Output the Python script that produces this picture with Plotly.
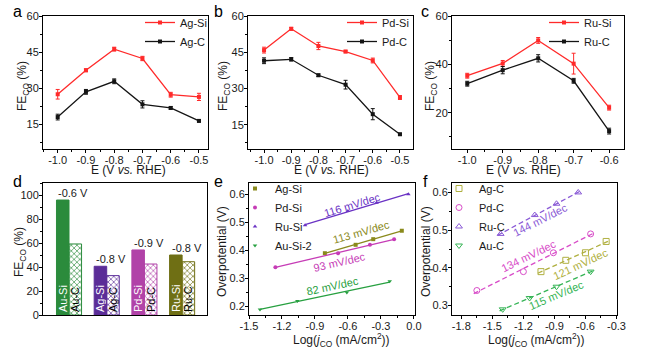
import numpy as np
import plotly.graph_objects as go

W, H = 649, 351
FONT = "Arial, Liberation Sans, sans-serif"

# ---------------- data ----------------
E6 = [-1.0, -0.9, -0.8, -0.7, -0.6, -0.5]
E5 = [-1.0, -0.9, -0.8, -0.7, -0.6]

ag_si = [27.4, 37.4, 46.2, 42.3, 27.2, 26.3]
ag_si_err = [2.0, 0.6, 0.8, 0.9, 1.0, 1.5]
ag_c = [17.9, 28.4, 32.8, 23.2, 21.7, 16.3]
ag_c_err = [1.2, 1.0, 1.0, 1.5, 0.5, 0.4]

pd_si = [45.9, 54.7, 47.6, 45.3, 41.6, 26.3]
pd_si_err = [1.2, 0.6, 1.5, 0.5, 1.0, 0.8]
pd_c = [41.5, 42.1, 35.5, 31.6, 19.4, 11.1]
pd_c_err = [1.2, 0.7, 0.5, 1.8, 2.3, 0.4]

ru_si = [35.3, 40.4, 49.9, 40.3, 22.1]
ru_si_err = [1.0, 1.2, 1.2, 4.3, 1.0]
ru_c = [32.0, 37.6, 42.5, 33.2, 12.4]
ru_c_err = [1.0, 1.5, 1.5, 1.0, 1.2]

metals = ["Au", "Ag", "Pd", "Ru"]
fe_si_best = [95.8, 40.6, 54.2, 50.0]
fe_c_best = [59.2, 32.8, 42.5, 44.4]
best_E = ["-0.6 V", "-0.8 V", "-0.9 V", "-0.8 V"]

# Tafel (e): Si-supported
tafel_si_names = ["Ag-Si", "Pd-Si", "Ru-Si", "Au-Si-2"]
tafel_si_x = [[-0.81, -0.53, -0.37, -0.11],
              [-1.26, -0.69, -0.40, -0.18],
              [-0.99, -0.60, -0.34, -0.05],
              [-1.40, -1.06, -0.61, -0.22]]
tafel_si_y = [[0.39, 0.42, 0.44, 0.47],
              [0.34, 0.39, 0.42, 0.44],
              [0.49, 0.54, 0.57, 0.60],
              [0.19, 0.22, 0.25, 0.29]]
tafel_si_slope = ["113 mV/dec", "93 mV/dec", "116 mV/dec", "82 mV/dec"]

# Tafel (f): C-supported
tafel_c_names = ["Ag-C", "Pd-C", "Ru-C", "Au-C"]
tafel_c_x = [[-1.03, -0.79, -0.60, -0.40],
             [-1.65, -1.20, -0.91, -0.55],
             [-1.42, -1.09, -0.88, -0.67],
             [-1.40, -1.14, -0.88, -0.55]]
tafel_c_y = [[0.39, 0.42, 0.44, 0.47],
             [0.34, 0.39, 0.44, 0.49],
             [0.49, 0.54, 0.57, 0.60],
             [0.29, 0.32, 0.35, 0.39]]
tafel_c_slope = ["121 mV/dec", "134 mV/dec", "144 mV/dec", "115 mV/dec"]

# tick labels
tick_E6 = [-1.0, -0.9, -0.8, -0.7, -0.6, -0.5]
tick_E5 = [-1.0, -0.9, -0.8, -0.7, -0.6]
tick_fe15 = [15, 30, 45, 60]
tick_fe20 = [20, 40, 60]
tick_bar = [0, 20, 40, 60, 80, 100]
tick_e_x = [-1.5, -1.2, -0.9, -0.6, -0.3, 0.0]
tick_f_x = [-1.8, -1.5, -1.2, -0.9, -0.6, -0.3]
tick_e_y = [0.2, 0.3, 0.4, 0.5, 0.6]
tick_f_y = [0.3, 0.4, 0.5, 0.6]

# ---------------- styles ----------------
RED, BLACK = "#ff2a2a", "#141414"
bar_colors = ["#2b8b3c", "#5b2d98", "#b142a8", "#6f6f14"]
si_colors = ["#8a8a1c", "#c63cb6", "#6a32c4", "#27a040"]
c_colors = ["#b0b040", "#d84cc8", "#8a5ad6", "#35b455"]
si_symbols = ["square", "circle", "triangle-up", "triangle-down"]
c_symbols = ["square-open", "circle-open", "triangle-up-open", "triangle-down-open"]


def px(x):
    return x / W


def py(y):
    return 1 - y / H


fig = go.Figure()


def fe_trace(xs, ys, errs, name, color, n, leg):
    fig.add_trace(go.Scatter(
        x=xs, y=ys, mode="lines+markers", name=name,
        line=dict(color=color, width=1.3),
        marker=dict(symbol="square", size=4, color=color),
        error_y=dict(type="data", array=errs, color=color, thickness=1, width=2),
        xaxis="x" + n, yaxis="y" + n, legend=leg))


fe_trace(E6, ag_si, ag_si_err, "Ag-Si", RED, "", "legend")
fe_trace(E6, ag_c, ag_c_err, "Ag-C", BLACK, "", "legend")
fe_trace(E6, pd_si, pd_si_err, "Pd-Si", RED, "2", "legend2")
fe_trace(E6, pd_c, pd_c_err, "Pd-C", BLACK, "2", "legend2")
fe_trace(E5, ru_si, ru_si_err, "Ru-Si", RED, "3", "legend3")
fe_trace(E5, ru_c, ru_c_err, "Ru-C", BLACK, "3", "legend3")

# bars (d)
fig.add_trace(go.Bar(
    x=metals, y=fe_si_best, marker=dict(color=bar_colors, line=dict(color=bar_colors, width=1)),
    text=[m + "-Si" for m in metals], textposition="inside", insidetextanchor="start",
    textangle=-90, textfont=dict(color="white", size=11, family=FONT),
    xaxis="x4", yaxis="y4", showlegend=False))
fig.add_trace(go.Bar(
    x=metals, y=fe_c_best,
    marker=dict(color=bar_colors, line=dict(color=bar_colors, width=1),
                pattern=dict(shape="x", fgcolor=bar_colors, bgcolor="white", size=4, solidity=0.3)),
    text=[m + "-C" for m in metals], textposition="inside", insidetextanchor="start",
    textangle=-90, textfont=dict(color="black", size=11, family=FONT),
    xaxis="x4", yaxis="y4", showlegend=False))

# Tafel (e)
for i in range(4):
    xs, ys = np.array(tafel_si_x[i]), np.array(tafel_si_y[i])
    k, b = np.polyfit(xs, ys, 1)
    xl = np.array([xs.min(), xs.max()])
    fig.add_trace(go.Scatter(x=xl, y=k * xl + b, mode="lines", line=dict(color=si_colors[i], width=1.3),
                             xaxis="x5", yaxis="y5", showlegend=False, hoverinfo="skip"))
    fig.add_trace(go.Scatter(x=xs, y=ys, mode="markers", name=tafel_si_names[i],
                             marker=dict(symbol=si_symbols[i], size=4, color=si_colors[i]),
                             xaxis="x5", yaxis="y5", legend="legend4"))

# Tafel (f)
for i in range(4):
    xs, ys = np.array(tafel_c_x[i]), np.array(tafel_c_y[i])
    k, b = np.polyfit(xs, ys, 1)
    xl = np.array([xs.min() - 0.03, xs.max() + 0.03])
    fig.add_trace(go.Scatter(x=xl, y=k * xl + b, mode="lines",
                             line=dict(color=c_colors[i], width=1.3, dash="5px,3px"),
                             xaxis="x6", yaxis="y6", showlegend=False, hoverinfo="skip"))
    fig.add_trace(go.Scatter(x=xs, y=ys, mode="markers", name=tafel_c_names[i],
                             marker=dict(symbol=c_symbols[i], size=6, color=c_colors[i],
                                         line=dict(width=1, color=c_colors[i])),
                             xaxis="x6", yaxis="y6", legend="legend5"))


# ---------------- axes ----------------
def axis(dom, rng, tv, fmt, minor_dt, anchor, tick0=0):
    d = dict(domain=dom, range=rng, anchor=anchor, automargin=False,
             showline=True, linecolor="black", linewidth=1,
             mirror=True, ticks="outside", ticklen=3, tickwidth=1, tickcolor="black",
             showgrid=False, zeroline=False, ticklabelstandoff=-2,
             tickfont=dict(size=11, color="#1a1a1a", family=FONT))
    if tv is not None:
        d.update(tickmode="array", tickvals=tv, ticktext=[fmt.format(v) for v in tv])
        d["minor"] = dict(ticks="outside", ticklen=2, tickwidth=1, tickcolor="black",
                          dtick=minor_dt, tick0=tick0, showgrid=False)
    return d


top_y = [py(149), py(16)]
bot_y = [py(315), py(183)]
lay = dict(
    xaxis=axis([px(43), px(208)], [-1.052, -0.468], tick_E6, "{:.1f}", 0.05, "y"),
    yaxis=axis(top_y, [4.6, 60], tick_fe15, "{:d}", 7.5, "x"),
    xaxis2=axis([px(248), px(413)], [-1.059, -0.452], tick_E6, "{:.1f}", 0.05, "y2"),
    yaxis2=axis(top_y, [5.0, 60], tick_fe15, "{:d}", 7.5, "x2"),
    xaxis3=axis([px(452), px(624)], [-1.043, -0.558], tick_E5, "{:.1f}", 0.05, "y3"),
    yaxis3=axis(top_y, [5.0, 60], tick_fe20, "{:d}", 10, "x3"),
    xaxis4=dict(domain=[px(43), px(207)], range=[-0.69, 3.66], anchor="y4", type="category",
                automargin=False, showline=True, linecolor="black", linewidth=1, mirror=True,
                ticks="", showticklabels=False, showgrid=False, zeroline=False),
    yaxis4=axis(bot_y, [0, 110], tick_bar, "{:d}", 10, "x4"),
    xaxis5=axis([px(249), px(415)], [-1.5, 0.01], tick_e_x, "{:.1f}", 0.15, "y5", tick0=0),
    yaxis5=axis(bot_y, [0.17, 0.64], tick_e_y, "{:.1f}", 0.05, "x5"),
    xaxis6=axis([px(452), px(617)], [-1.89, -0.295], tick_f_x, "{:.1f}", 0.15, "y6", tick0=0),
    yaxis6=axis(bot_y, [0.275, 0.625], tick_f_y, "{:.1f}", 0.05, "x6"),
)
fig.update_layout(**lay)


def legend(x, y):
    return dict(x=px(x), y=py(y), xanchor="left", yanchor="top", bgcolor="rgba(0,0,0,0)",
                borderwidth=0, font=dict(size=11, color="#1a1a1a", family=FONT),
                itemwidth=30, tracegroupgap=0)


fig.update_layout(
    legend=legend(140, 8), legend2=legend(342, 8), legend3=legend(544, 8),
    legend4=legend(235, 174), legend5=legend(439, 174),
)

ann = []
# panel letters
for t, x, y in [("a", 17, 12), ("b", 218, 12), ("c", 425, 12),
                ("d", 17, 181), ("e", 218, 181), ("f", 425, 181)]:
    ann.append(dict(text=t, x=px(x), y=py(y), xref="paper", yref="paper", showarrow=False,
                    xanchor="center", yanchor="middle", font=dict(size=16, color="black", family=FONT)))
# axis titles
fe_title = "FE<sub>CO</sub> (%)"
for t, x, y in [(fe_title, 23, 86), (fe_title, 224, 86), (fe_title, 431, 86), (fe_title, 20, 252),
                ("Overpotential (V)", 222, 252), ("Overpotential (V)", 426, 252)]:
    ann.append(dict(text=t, x=px(x), y=py(y), xref="paper", yref="paper", showarrow=False,
                    textangle=-90, xanchor="center", yanchor="middle",
                    font=dict(size=12, color="#1a1a1a", family=FONT)))
e_title = "E (V <i>vs.</i> RHE)"
j_title = "Log(<i>j</i><sub>CO</sub> (mA/cm<sup>2</sup>))"
for t, x, y in [(e_title, 128.5, 169.5), (e_title, 331.5, 169.5), (e_title, 523, 169.5),
                (j_title, 341.5, 340), (j_title, 536, 340)]:
    ann.append(dict(text=t, x=px(x), y=py(y), xref="paper", yref="paper", showarrow=False,
                    xanchor="center", yanchor="middle",
                    font=dict(size=12, color="#1a1a1a", family=FONT)))
# bar potential labels
for i, m in enumerate(metals):
    ann.append(dict(text=best_E[i], x=i - 0.3325, y=fe_si_best[i], xref="x4", yref="y4",
                    showarrow=False, xanchor="left", yanchor="bottom", yshift=-1,
                    font=dict(size=11, color="#1a1a1a", family=FONT)))
# slope labels
e_pos = [(-0.481, 0.467, -16), (-0.673, 0.357, -13), (-0.563, 0.562, -17), (-0.741, 0.274, -12)]
for i, (x, y, a) in enumerate(e_pos):
    ann.append(dict(text=tafel_si_slope[i], x=x, y=y, xref="x5", yref="y5", showarrow=False,
                    textangle=a, font=dict(size=11, color=si_colors[i], family=FONT)))
f_pos = [(-0.645, 0.410, -25), (-1.152, 0.432, -26), (-1.037, 0.526, -27), (-0.881, 0.329, -23)]
for i, (x, y, a) in enumerate(f_pos):
    ann.append(dict(text=tafel_c_slope[i], x=x, y=y, xref="x6", yref="y6", showarrow=False,
                    textangle=a, font=dict(size=11, color=c_colors[i], family=FONT)))

fig.update_layout(
    template="none",
    annotations=ann,
    width=W, height=H, margin=dict(l=0, r=0, t=0, b=0),
    paper_bgcolor="white", plot_bgcolor="white",
    barmode="group", bargap=0.335, bargroupgap=0,
    uniformtext=dict(minsize=11, mode="show"),
    font=dict(family=FONT, size=11, color="#1a1a1a"),
)

fig.write_html("out.html")
